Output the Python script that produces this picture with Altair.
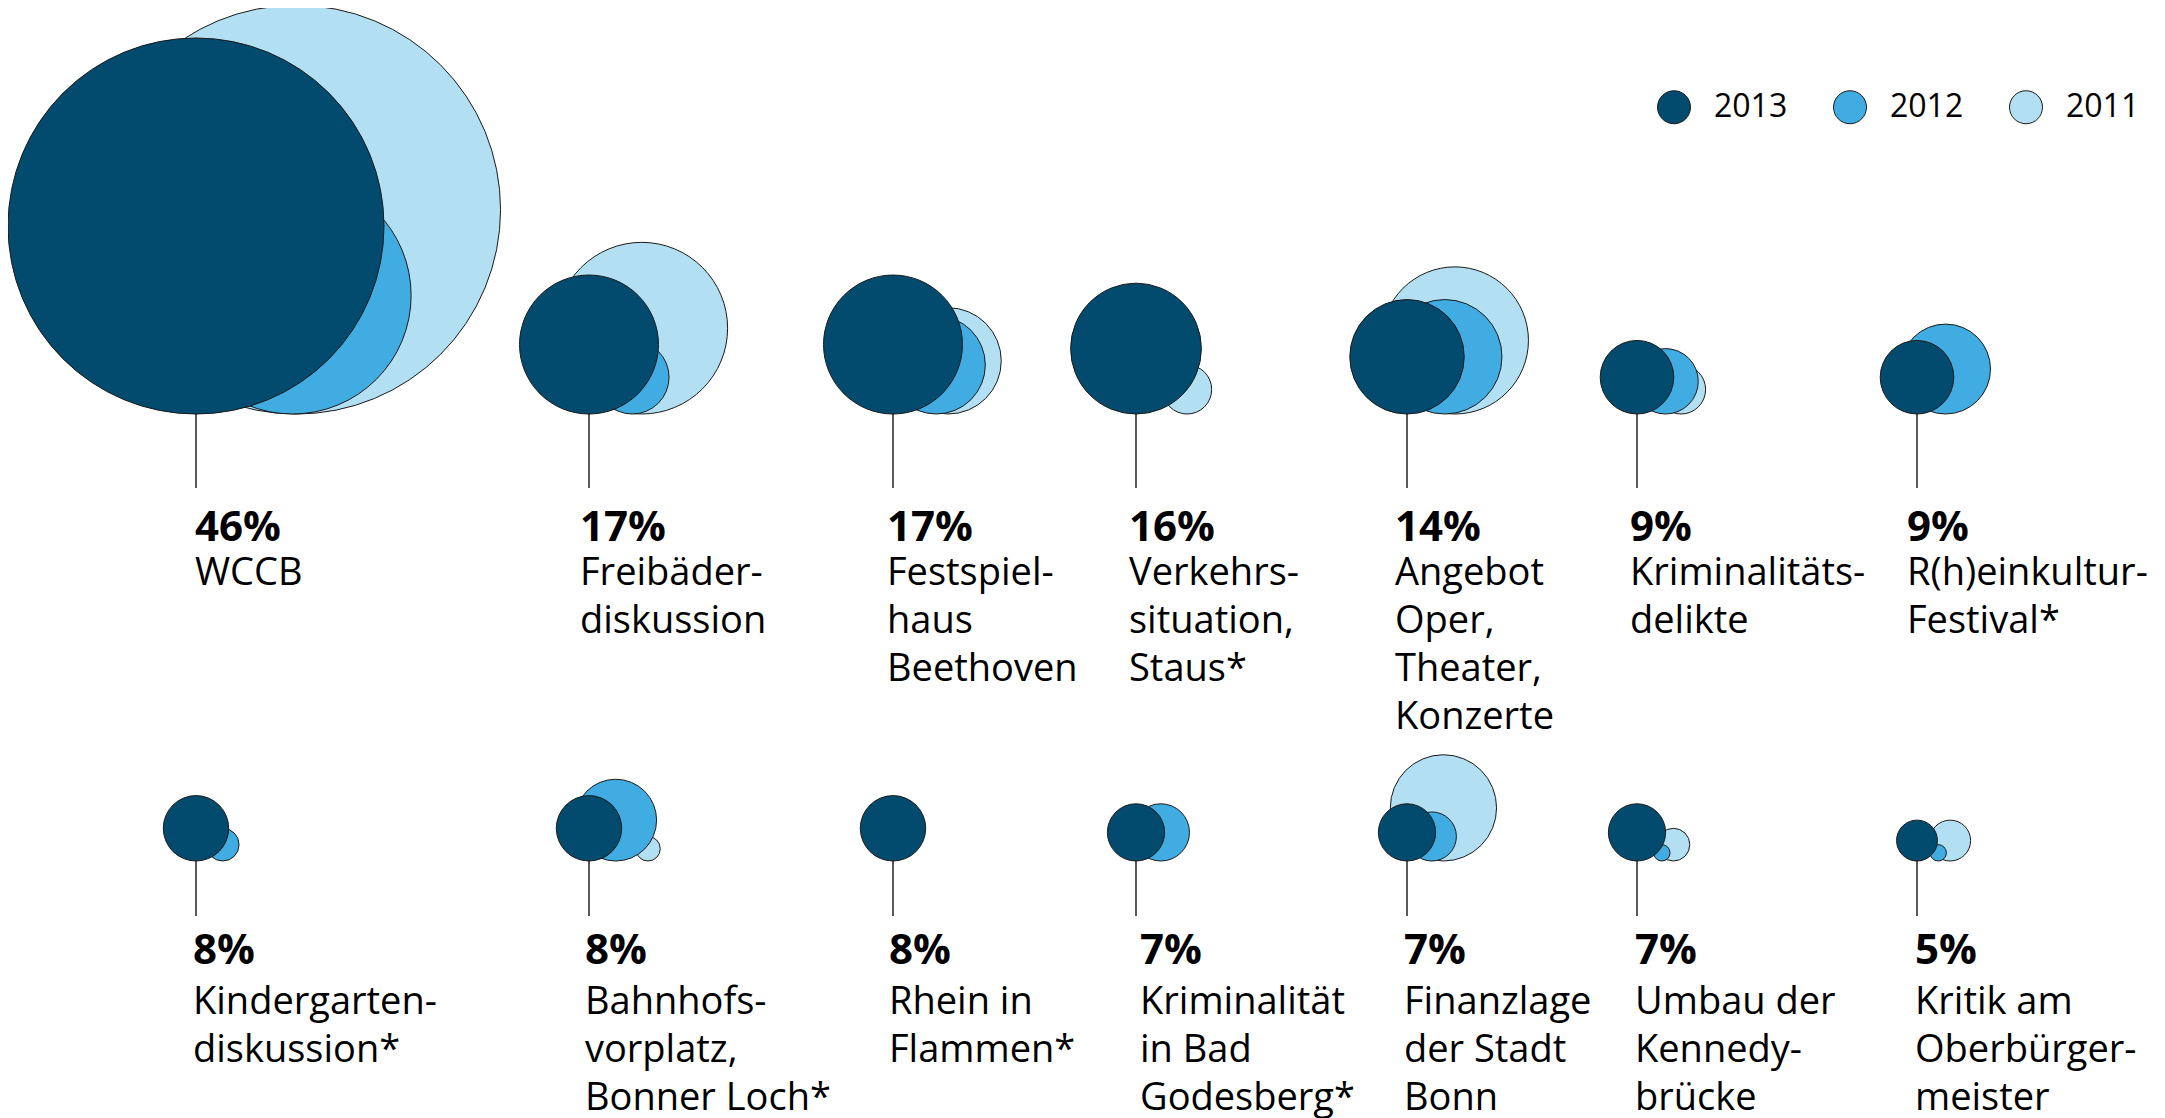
import altair as alt
import pandas as pd

# ---------------- data ----------------
topics = [
    "WCCB",
    "Freibäder-\ndiskussion",
    "Festspiel-\nhaus\nBeethoven",
    "Verkehrs-\nsituation,\nStaus*",
    "Angebot\nOper,\nTheater,\nKonzerte",
    "Kriminalitäts-\ndelikte",
    "R(h)einkultur-\nFestival*",
    "Kindergarten-\ndiskussion*",
    "Bahnhofs-\nvorplatz,\nBonner Loch*",
    "Rhein in\nFlammen*",
    "Kriminalität\nin Bad\nGodesberg*",
    "Finanzlage\nder Stadt\nBonn",
    "Umbau der\nKennedy-\nbrücke",
    "Kritik am\nOberbürger-\nmeister",
]
share_2013 = [46, 17, 17, 16, 14, 9, 9, 8, 8, 8, 7, 7, 7, 5]
share_2012 = [29, 9, 12, None, 14, 8, 11, 4, 10, None, 7, 6, 2, 2]
share_2011 = [50, 21, 13, 6, 18, 6, None, None, 3, None, None, 13, 4, 5]
years = ["2013", "2012", "2011"]
year_colors = ["#024b6e", "#41ace2", "#b3dff3"]

# ---------------- layout ----------------
W, H = 2149, 1110
PX_PER_POINT = 4.087          # circle radius (px) per percentage point
PER_ROW = 7
COLUMN_X = [188, 581, 885, 1128, 1399, 1629, 1909]          # stem / front circle centre
TEXT_X = [
    [187, 572, 879, 1121, 1387, 1622, 1899],
    [185, 577, 881, 1132, 1396, 1627, 1907],
]
ROW_LAYOUT = [
    {"base": 406, "stem": 480, "pct": 533, "label": 577},
    {"base": 853, "stem": 908, "pct": 956, "label": 1006},
]
series = {"2011": share_2011, "2012": share_2012, "2013": share_2013}
z_order = {"2011": 0, "2012": 1, "2013": 2}

circle_rows, label_rows = [], []
for i, topic in enumerate(topics):
    r_idx, c_idx = divmod(i, PER_ROW)
    row = ROW_LAYOUT[r_idx]
    col_x = COLUMN_X[c_idx]
    r_main = share_2013[i] * PX_PER_POINT
    # earlier years sit behind the current bubble, shifted to the right
    front_right = col_x + r_main
    placed = {}
    dx_2012 = 0.45 * r_main + 12
    if share_2012[i] is not None:
        r12 = share_2012[i] * PX_PER_POINT
        front_right = max(front_right, col_x + dx_2012 + r12)
    dx_2011 = 0.4 * r_main + 25
    if share_2011[i] is not None:
        r11 = share_2011[i] * PX_PER_POINT
        min_right = front_right + 0.3 * r11
        dx_2011 = max(dx_2011, min_right - r11 - col_x)
    shift = {"2013": 0.0, "2012": dx_2012, "2011": dx_2011}
    for year in ["2011", "2012", "2013"]:
        v = series[year][i]
        if v is None:
            continue
        circle_rows.append({
            "topic": topic.replace("\n", " "), "year": year, "share": v,
            "z": z_order[year],
            "cx": col_x + shift[year],
            "cy": row["base"] - v * PX_PER_POINT,
        })
    label_rows.append({
        "stem_x": col_x, "text_x": TEXT_X[r_idx][c_idx],
        "stem_top": row["base"], "stem_bottom": row["stem"],
        "pct_y": row["pct"], "label_y": row["label"],
        "pct": f"{share_2013[i]}%", "label": topic,
    })

cdf = pd.DataFrame(circle_rows)
ldf = pd.DataFrame(label_rows)

xs = alt.Scale(domain=[0, W], range=[0, W], nice=False, zero=False)
ys = alt.Scale(domain=[0, H], range=[0, H], nice=False, zero=False)

circles = alt.Chart(cdf).mark_circle(
    opacity=1, stroke="#1a1a1a", strokeWidth=1
).encode(
    x=alt.X("cx:Q", scale=xs, axis=None),
    y=alt.Y("cy:Q", scale=ys, axis=None),
    size=alt.Size(
        "share:Q",
        scale=alt.Scale(type="pow", exponent=2, domain=[0, 50],
                        range=[0, (2 * PX_PER_POINT * 50) ** 2]),
        legend=None,
    ),
    color=alt.Color(
        "year:N",
        scale=alt.Scale(domain=years, range=year_colors),
        legend=alt.Legend(
            title=None, orient="none", legendX=1649, legendY=82,
            direction="horizontal", symbolType="circle", symbolSize=1089,
            symbolStrokeColor="#1a1a1a", symbolStrokeWidth=1, symbolOpacity=1,
            labelFont="Open Sans", labelFontSize=32, labelColor="black",
            labelOffset=23, columnPadding=43, padding=0,
        ),
    ),
    order=alt.Order("z:Q"),
)

stems = alt.Chart(ldf).mark_rule(color="black", strokeWidth=1.3).encode(
    x=alt.X("stem_x:Q", scale=xs, axis=None),
    y=alt.Y("stem_top:Q", scale=ys, axis=None),
    y2="stem_bottom:Q",
)

pct_text = alt.Chart(ldf).mark_text(
    align="left", baseline="alphabetic", font="Open Sans",
    fontSize=42, fontWeight="bold", color="black",
).encode(
    x=alt.X("text_x:Q", scale=xs, axis=None),
    y=alt.Y("pct_y:Q", scale=ys, axis=None),
    text="pct:N",
)

label_text = alt.Chart(ldf).mark_text(
    align="left", baseline="alphabetic", font="Open Sans",
    fontSize=38, color="black", lineBreak="\n", lineHeight=48,
).encode(
    x=alt.X("text_x:Q", scale=xs, axis=None),
    y=alt.Y("label_y:Q", scale=ys, axis=None),
    text="label:N",
)

chart = alt.layer(circles, stems, pct_text, label_text).properties(
    width=W, height=H, padding=0,
    autosize=alt.AutoSizeParams(type="none"),
    background="white",
).configure_view(stroke=None)

chart.save("out.html", embed_options={"renderer": "svg", "actions": False})
